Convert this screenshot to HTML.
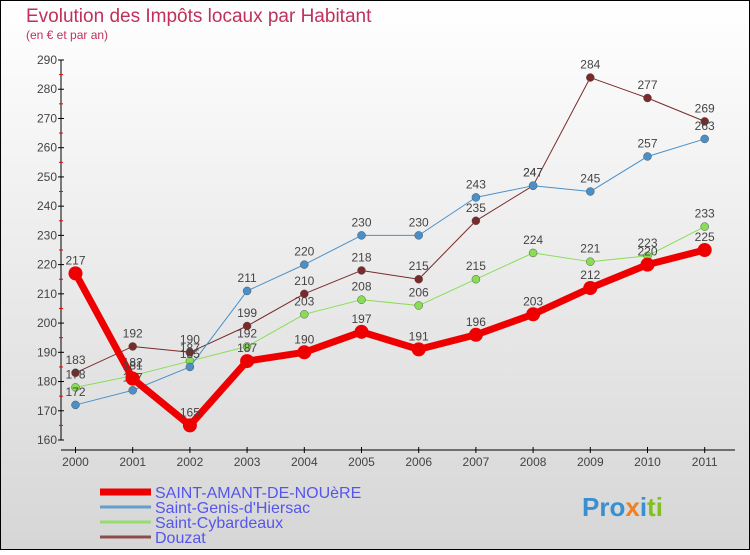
<!DOCTYPE html>
<html><head><meta charset="utf-8"><style>
body{margin:0}
#c{width:750px;height:550px;position:relative;font-family:"Liberation Sans",sans-serif}
</style></head><body>
<div id="c">
<svg id="s" width="750" height="550" xmlns="http://www.w3.org/2000/svg" font-family="Liberation Sans, sans-serif">
<defs><linearGradient id="bg" x1="0" y1="0" x2="0" y2="1"><stop offset="0" stop-color="#ffffff"/><stop offset="1" stop-color="#d6d6d6"/></linearGradient></defs>
<rect x="0.5" y="0.5" width="749" height="549" fill="url(#bg)" stroke="#000"/>
<text x="26" y="22" font-size="19" fill="#c0305a">Evolution des Impôts locaux par Habitant</text>
<text x="26" y="39" font-size="12" fill="#c0305a">(en € et par an)</text>
<g id="axes"></g><g id="series"></g><g id="legend"></g>
<text x="582" y="516" font-size="26" font-weight="bold" fill="#3a8fd0">Pro<tspan fill="#f08020">x</tspan><tspan fill="#3a8fd0">i</tspan><tspan fill="#80c020">ti</tspan></text>
</svg></div>
<script>
const years=["2000","2001","2002","2003","2004","2005","2006","2007","2008","2009","2010","2011"];
const yTicks=[160,170,180,190,200,210,220,230,240,250,260,270,280,290];
const saintAmant=[217,181,165,187,190,197,191,196,203,212,220,225];
const saintGenis=[172,177,185,211,220,230,230,243,247,245,257,263];
const saintCybardeaux=[178,182,187,192,203,208,206,215,224,221,223,233];
const douzat=[183,192,190,199,210,218,215,235,247,284,277,269];
const NS="http://www.w3.org/2000/svg";
const X=i=>75.5+i*57.2;
const Y=v=>440-(v-160)*(380/130);
function mk(t,a,p){const e=document.createElementNS(NS,t);for(const k in a)e.setAttribute(k,a[k]);p.appendChild(e);return e;}
const ax=document.getElementById('axes');
const yl=mk('line',{x1:61,y1:Y(290),x2:61,y2:Y(160),stroke:'#000'},ax);


yTicks.forEach((v,i)=>{
  mk('line',{x1:58,x2:64,y1:Y(v),y2:Y(v),stroke:'#000'},ax);
  if(i<yTicks.length-1)mk('line',{x1:59,x2:63,y1:Y(v+5),y2:Y(v+5),stroke:'#e00'},ax);
  const t=mk('text',{x:57,y:Y(v)+4,'font-size':12,fill:'#444','text-anchor':'end'},ax);t.textContent=v;
  
  
});
const xl=mk('line',{x1:61,y1:450,x2:735,y2:450,stroke:'#000'},ax);


years.forEach((y,i)=>{
  mk('line',{x1:X(i),x2:X(i),y1:447,y2:453,stroke:'#000'},ax);
  const t=mk('text',{x:X(i),y:466,'font-size':12,fill:'#444','text-anchor':'middle'},ax);t.textContent=y;
  
  
});
const series=[
 {n:'Douzat',d:douzat,c:'#7a2a2a',w:1,r:4,name:'series-douzat'},
 {n:'Saint-Cybardeaux',d:saintCybardeaux,c:'#88dd55',w:1,r:4,name:'series-saint-cybardeaux'},
 {n:'Saint-Genis-d\'Hiersac',d:saintGenis,c:'#4a90c8',w:1,r:4,name:'series-saint-genis'},
 {n:'SAINT-AMANT-DE-NOUèRE',d:saintAmant,c:'#ee0000',w:7,r:7,name:'series-saint-amant'}
];
const sg=document.getElementById('series');
series.forEach(s=>{
  const g=mk('g',{},sg);
  
  
  mk('polyline',{points:s.d.map((v,i)=>X(i)+','+Y(v)).join(' '),fill:'none',stroke:s.c,'stroke-width':s.w,'stroke-linejoin':'round'},g);
  s.d.forEach((v,i)=>{
    const p=mk('circle',{cx:X(i),cy:Y(v),r:s.r,fill:s.c,stroke:s.w>1?'none':'#555','stroke-width':0.5},g);
    
    
    const t=mk('text',{x:X(i),y:Y(v)-9,'font-size':12,fill:'#444','text-anchor':'middle'},g);t.textContent=v;
    
    
  });
});
const lg=document.getElementById('legend');
const leg=[series[3],series[2],series[1],series[0]];
leg.forEach((s,i)=>{
  const y=492+i*15;
  const g=mk('g',{},lg);
  
  
  mk('line',{x1:100,x2:151,y1:y,y2:y,stroke:s.c,'stroke-width':s.w>1?7:3,opacity:s.w>1?1:0.8},g);
  const t=mk('text',{x:155,y:y+6,'font-size':16,fill:'#5555ee'},g);t.textContent=s.n;
});
</script>
</body></html>
